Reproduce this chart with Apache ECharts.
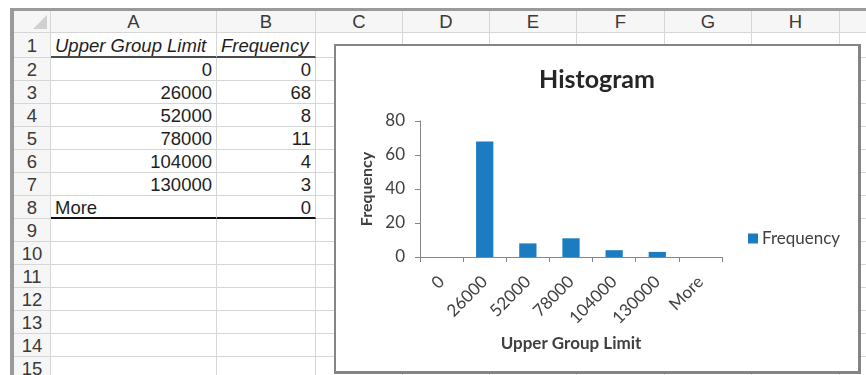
<!DOCTYPE html>
<html>
<head>
<meta charset="utf-8">
<script src="https://cdn.jsdelivr.net/npm/echarts@6/dist/echarts.min.js"></script>
<style>
  html,body{margin:0;padding:0;background:#fff;}
  body{width:866px;height:375px;position:relative;overflow:hidden;font-family:"Liberation Sans",Arial,sans-serif;}
  .frameTop{position:absolute;left:10px;top:8px;width:856px;height:3px;background:#9a9a9a;}
  .frameLeft{position:absolute;left:10px;top:8px;width:4px;height:367px;background:#9a9a9a;}
  .cell{position:absolute;box-sizing:border-box;border-right:1px solid #d6d6d6;border-bottom:1px solid #d6d6d6;
        font-size:18.5px;line-height:22px;color:#1e1e1e;white-space:nowrap;overflow:hidden;}
  .hdr{background:#f6f6f6;color:#3a3a3a;text-align:center;}
  .num{text-align:right;padding-right:4px;}
  .txt{text-align:left;padding-left:4px;}
  .ital{font-style:italic;}
  #chartBox{position:absolute;left:334px;top:44px;width:527px;height:330px;box-sizing:border-box;
            border:2px solid #858585;border-right-width:3px;border-bottom-width:3px;background:#fff;}
  #chart{width:522px;height:325px;}
</style>
</head>
<body>
<div id="sheet"></div>
<div class="frameTop"></div>
<div class="frameLeft"></div>
<div id="chartBox"><div id="chart"></div></div>
<script>
// ---- data ----
var categories = ['0', '26000', '52000', '78000', '104000', '130000', 'More'];
var frequency  = [0, 68, 8, 11, 4, 3, 0];
var headerA = 'Upper Group Limit';
var headerB = 'Frequency';
var columnLetters = ['A', 'B', 'C', 'D', 'E', 'F', 'G', 'H', ''];
var rowCount = 15;
var yTicks = [0, 20, 40, 60, 80];

// ---- spreadsheet (HTML) ----
(function () {
  var sheet = document.getElementById('sheet');
  var colEdges = [14, 51, 217, 316, 403, 490, 577, 665, 752, 840, 880];
  var rowEdges = [11, 33, 58];
  for (var r = 2; r <= rowCount; r++) rowEdges.push(rowEdges[rowEdges.length - 1] + 23);
  function cell(x0, x1, y0, y1, cls, text, extra) {
    var d = document.createElement('div');
    d.className = 'cell ' + cls;
    d.style.left = x0 + 'px'; d.style.top = y0 + 'px';
    d.style.width = (x1 - x0) + 'px'; d.style.height = (y1 - y0) + 'px';
    d.style.lineHeight = (y1 - y0) + 'px';
    if (extra) for (var k in extra) d.style[k] = extra[k];
    d.textContent = text;
    sheet.appendChild(d);
    return d;
  }
  var c = cell(colEdges[0], colEdges[1], rowEdges[0], rowEdges[1], 'hdr', '');
  var tri = document.createElement('div');
  tri.style.cssText = 'position:absolute;right:3px;bottom:3px;width:0;height:0;border-left:14px solid transparent;border-bottom:14px solid #d0d0d0;';
  c.appendChild(tri);
  for (var i = 0; i < columnLetters.length; i++) {
    cell(colEdges[i + 1], colEdges[i + 2], rowEdges[0], rowEdges[1], 'hdr', columnLetters[i]);
  }
  for (var r = 1; r <= rowCount; r++) {
    var y0 = rowEdges[r], y1 = rowEdges[r + 1];
    cell(colEdges[0], colEdges[1], y0, y1, 'hdr', String(r));
    for (var cI = 0; cI < columnLetters.length; cI++) {
      var txt = '', cls = '', extra = null;
      if (cI === 0) {
        if (r === 1) { txt = headerA; cls = 'ital txt'; }
        else if (r - 2 < categories.length) {
          var v = categories[r - 2];
          txt = v; cls = (v === 'More') ? 'txt' : 'num';
        }
      } else if (cI === 1) {
        if (r === 1) { txt = headerB; cls = 'ital txt'; }
        else if (r - 2 < frequency.length) { txt = String(frequency[r - 2]); cls = 'num'; }
      }
      if (cI <= 1 && r === 1) extra = {borderBottom: '2px solid #4a4a4a'};
      if (cI <= 1 && r === 1 + categories.length) extra = {borderBottom: '2px solid #111'};
      cell(colEdges[cI + 1], colEdges[cI + 2], y0, y1, cls, txt, extra);
    }
  }
})();

// ---- chart (ECharts) ----
var chart = echarts.init(document.getElementById('chart'), null, {renderer: 'canvas'});
var axisGray = '#868686';
chart.setOption({
  animation: false,
  backgroundColor: '#fff',
  textStyle: {fontFamily: 'Lato, "Open Sans", sans-serif'},
  title: {
    text: 'Histogram',
    left: 'center',
    top: 21,
    padding: 0,
    textStyle: {fontSize: 25, fontWeight: 'bold', color: '#262626', fontFamily: 'Lato'}
  },
  legend: {
    data: ['Frequency'],
    orient: 'vertical',
    left: 412,
    top: 184,
    padding: 0,
    itemWidth: 10,
    itemHeight: 10,
    icon: 'rect',
    textStyle: {fontSize: 17, color: '#404040', fontFamily: 'Lato', padding: [0, 0, 0, -1]}
  },
  grid: {left: 84, right: 136, top: 75, bottom: 114, containLabel: false},
  xAxis: {
    type: 'category',
    data: categories,
    name: 'Upper Group Limit',
    nameLocation: 'middle',
    nameGap: 78,
    nameTextStyle: {fontSize: 17, fontWeight: 'bold', color: '#404040', fontFamily: 'Lato'},
    axisLine: {show: true, lineStyle: {color: axisGray, width: 1}},
    axisTick: {show: true, length: 5, interval: 0, lineStyle: {color: axisGray}},
    axisLabel: {interval: 0, rotate: 45, margin: 22, fontSize: 17, color: '#404040', fontFamily: 'Lato'},
    splitLine: {show: false}
  },
  yAxis: {
    type: 'value',
    min: yTicks[0],
    max: yTicks[yTicks.length - 1],
    interval: yTicks[1] - yTicks[0],
    name: 'Frequency',
    nameLocation: 'middle',
    nameRotate: 90,
    nameGap: 41,
    nameTextStyle: {fontSize: 16, fontWeight: 'bold', color: '#404040', fontFamily: 'Lato'},
    axisLine: {show: true, lineStyle: {color: axisGray, width: 1}},
    axisTick: {show: true, length: 5, lineStyle: {color: axisGray}},
    axisLabel: {margin: 15, fontSize: 17, color: '#404040', fontFamily: 'Lato'},
    splitLine: {show: false}
  },
  series: [{
    name: 'Frequency',
    type: 'bar',
    data: frequency,
    barCategoryGap: '60%',
    itemStyle: {color: '#1b7cc1'}
  }]
});
</script>
</body>
</html>
